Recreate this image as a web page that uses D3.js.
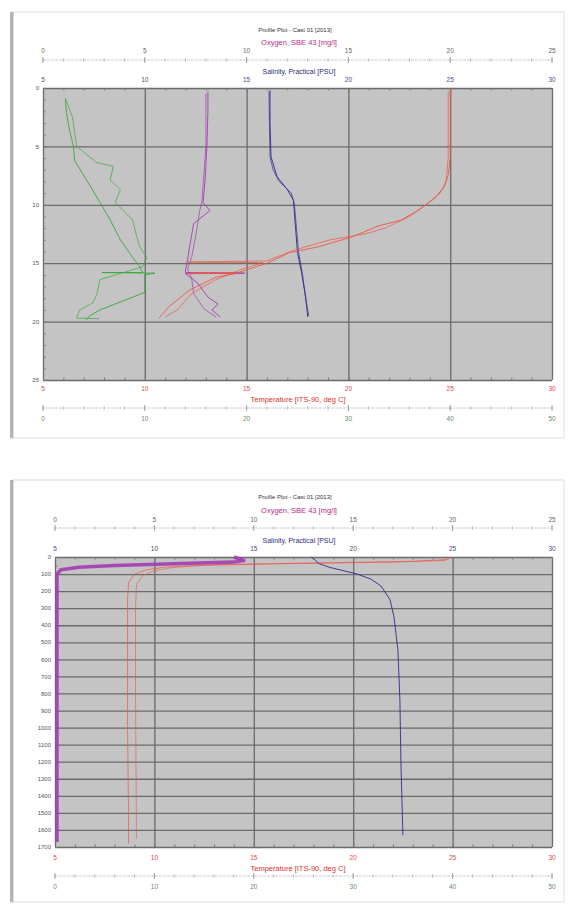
<!DOCTYPE html>
<html>
<head>
<meta charset="utf-8">
<script src="https://cdn.jsdelivr.net/npm/d3@7"></script>
<style>
  body { margin: 0; background: #fff; }
  svg { font-family: "Liberation Sans", Arial, sans-serif; }
</style>
</head>
<body>
<svg id="chart" width="568" height="905"></svg>
<script>
// ---- data: [depth, value] ----

// shallow cast (0-25 m)
const tempDownTop = [[0,25],[2,25],[4,25],[6,25],[7.5,24.9],[8.5,24.7],[9.5,24.2],[10.5,23.4],[11.3,22.6],[11.8,21.5],[12.8,20.1],[13.6,18.5],[14.1,17.1],[15,16],[15.8,14.6],[15.85,12.1],[15.9,14.4],[16.2,13.5],[17.3,12.2],[18.7,11.2],[19.7,10.7]];
const tempUpTop = [[0.3,24.9],[3,24.9],[6,24.9],[8,24.8],[9,24.5],[10,23.8],[11,23],[12,21.8],[12.5,20.8],[13,19.1],[13.9,17.3],[14.8,16],[14.9,12.1],[14.95,15.8],[15.5,14.8],[16.4,13.5],[17.6,12.3],[19,11.6],[19.6,11]];
const oxyDownTop = [[0.3,8.1],[2,8.1],[5,8.05],[7.9,7.96],[9.8,7.86],[10.5,8.2],[11.6,7.4],[13.6,7.2],[14.7,7.1],[15.6,7.0],[15.8,7.0],[15.85,9.9],[15.9,7.0],[16.7,7.6],[17.9,8.1],[18.5,8.6],[19,8.3],[19.6,8.7]];
const oxyUpTop = [[0.5,8.0],[5,8.0],[9.8,7.8],[10.5,7.7],[12.7,7.5],[14.5,7.3],[15.5,7.1],[16.3,7.3],[17.6,7.4],[18.9,7.9],[19.6,8.5]];
const salDownTop = [[0.2,16.15],[3,16.15],[5.9,16.2],[7.6,16.5],[8.7,17],[9.6,17.3],[11.9,17.4],[14.1,17.5],[15.8,17.7],[17.9,17.9],[19.6,18]];
const salUpTop = [[0.3,16.1],[5.9,16.15],[7,16.3],[8,16.6],[9,17.2],[10,17.35],[12,17.45],[14,17.55],[16,17.75],[18,17.9],[19.5,18.05]];
const grnDownTop = [[0.9,2.2],[2.1,2.3],[3.6,2.6],[5,3],[6.2,3.1],[7.9,4.3],[9.8,5.6],[11.3,6.6],[13,7.6],[14.5,8.8],[15.3,9.5],[15.8,9.8],[15.8,5.8],[15.85,11],[16,10],[17.3,10],[17.5,10],[19,5.6],[19.5,4.6],[19.9,4.2]];
const grnUpTop = [[0.9,2.2],[2.5,2.9],[5,3.3],[6.4,5.3],[6.7,6.9],[7.9,6.6],[8.7,7.6],[9.8,7.1],[11.3,8.8],[12.7,9.2],[13.6,9.5],[14.5,10.2],[15.3,9.8],[16.4,5.6],[17.6,5.3],[18.4,4.9],[19,3.6],[19.7,3.3],[19.75,5.5]];

// deep cast (0-1700 m)
const tempDownBot = [[0,24.9],[10,24.8],[20,24.6],[30,22],[40,16],[50,12],[60,10.5],[75,9.6],[100,9.0],[150,8.7],[250,8.65],[500,8.65],[1000,8.65],[1500,8.7],[1680,8.7]];
const tempUpBot = [[2,24.8],[15,24.7],[25,23],[35,18],[45,13],[60,11],[80,10],[110,9.4],[160,9.1],[300,9.05],[800,9.05],[1650,9.1]];
const salBot = [[0,17.9],[20,18.1],[40,18.3],[60,18.8],[80,19.5],[100,20.2],[130,20.9],[170,21.4],[250,21.85],[350,22.05],[545,22.25],[840,22.35],[1200,22.4],[1630,22.5]];
const oxyBot = [[0,9],[20,9.5],[30,9],[40,6],[50,3],[60,1.2],[75,0.3],[100,0.1],[300,0.1],[1000,0.1],[1670,0.1]];

// axis ticks
const oxyTicks = [0, 5, 10, 15, 20, 25];
const salTicks = [5, 10, 15, 20, 25, 30];
const tempTicks = [5, 10, 15, 20, 25, 30];
const grnTicks = [0, 10, 20, 30, 40, 50];
const depthTicksTop = [0, 5, 10, 15, 20, 25];
const depthTicksBot = d3.range(0, 1800, 100);

const plotTitle = "Profile Plot - Cast 01 [2013]";
const oxyTitle = "Oxygen, SBE 43 [mg/l]";
const salTitle = "Salinity, Practical [PSU]";
const tempTitle = "Temperature [ITS-90, deg C]";

const C = { temp: "#ee5544", oxy: "#a43cb4", sal: "#2c2c90", grn: "#3aa83a" };

const svg = d3.select("#chart");

function drawPanel(p) {
  const g = svg.append("g");

  // card
  g.append("rect").attr("x", p.card[0]).attr("y", p.card[1])
    .attr("width", p.card[2]).attr("height", p.card[3])
    .attr("fill", "#fff").attr("stroke", "#dedede");
  g.append("rect").attr("x", p.card[0] - 2).attr("y", p.card[1])
    .attr("width", 3.5).attr("height", p.card[3]).attr("fill", "#b4b4b4");

  const y = d3.scaleLinear().domain([0, p.depthMax]).range([p.top, p.bottom]);
  const xOxy = d3.scaleLinear().domain([0, 25]).range([p.left, p.right]);
  const xSal = d3.scaleLinear().domain([5, 30]).range([p.left, p.right]);
  const xTemp = d3.scaleLinear().domain([5, 30]).range([p.left, p.right]);
  const xGrn = d3.scaleLinear().domain([0, 50]).range([p.left, p.right]);

  // plot area and grid
  g.append("rect").attr("x", p.left).attr("y", p.top)
    .attr("width", p.right - p.left).attr("height", p.bottom - p.top)
    .attr("fill", "#c4c4c4");

  g.append("g").attr("transform", `translate(0,${p.top})`)
    .call(d3.axisTop(xSal).tickValues(salTicks).tickSize(-(p.bottom - p.top)).tickFormat(""))
    .call(a => a.select(".domain").remove())
    .selectAll("line").attr("stroke", "#6a6a6a").attr("stroke-width", 1.3);

  g.append("g").attr("transform", `translate(${p.left},0)`)
    .call(d3.axisLeft(y).tickValues(p.depthTicks).tickSize(-(p.right - p.left)).tickFormat(""))
    .call(a => a.select(".domain").remove())
    .selectAll("line").attr("stroke", "#6a6a6a").attr("stroke-width", 1.3);

  // inner minor ticks
  const minorX = d3.range(5, 30.01, 1);
  g.append("g").attr("transform", `translate(0,${p.top})`)
    .call(d3.axisBottom(xSal).tickValues(minorX).tickSize(2.5).tickFormat(""))
    .call(a => a.select(".domain").remove())
    .selectAll("line").attr("stroke", "#777");
  g.append("g").attr("transform", `translate(0,${p.bottom})`)
    .call(d3.axisTop(xTemp).tickValues(minorX).tickSize(2.5).tickFormat(""))
    .call(a => a.select(".domain").remove())
    .selectAll("line").attr("stroke", "#777");
  g.append("g").attr("transform", `translate(${p.left},0)`)
    .call(d3.axisRight(y).tickValues(p.depthMinor).tickSize(2.5).tickFormat(""))
    .call(a => a.select(".domain").remove())
    .selectAll("line").attr("stroke", "#777");

  // depth labels
  g.append("g").selectAll("text").data(p.depthTicks).join("text")
    .attr("x", p.left - 4).attr("y", d => y(d) + 2.2)
    .attr("text-anchor", "end").attr("font-size", 6).attr("fill", "#555")
    .text(d => d);

  // plain axis lines (oxygen on top, green at the bottom)
  function floatAxis(scale, ticks, minor, yLine, yLab, labColor) {
    g.append("line").attr("x1", p.left).attr("x2", p.right)
      .attr("y1", yLine).attr("y2", yLine)
      .attr("stroke", "#cacaca").attr("stroke-dasharray", "3,1");
    g.append("g").selectAll("line").data(minor).join("line")
      .attr("x1", d => scale(d)).attr("x2", d => scale(d))
      .attr("y1", yLine - 1.5).attr("y2", yLine + 1.5).attr("stroke", "#b8b8b8");
    g.append("g").selectAll("line").data(ticks).join("line")
      .attr("x1", d => scale(d)).attr("x2", d => scale(d))
      .attr("y1", yLine - 3).attr("y2", yLine + 3).attr("stroke", "#a0a0a0");
    g.append("g").selectAll("text").data(ticks).join("text")
      .attr("x", d => scale(d)).attr("y", yLab + 2.3)
      .attr("text-anchor", "middle").attr("font-size", 6.5).attr("fill", labColor)
      .text(d => d);
  }
  floatAxis(xOxy, oxyTicks, d3.range(0, 25.01, 1), p.oxyLineY, p.oxyLabelY, "#666");
  floatAxis(xGrn, grnTicks, d3.range(0, 50.01, 2), p.grnLineY, p.grnLabelY, "#6a8a6a");

  // salinity & temperature labels on the plot frame
  g.append("g").selectAll("text").data(salTicks).join("text")
    .attr("x", d => xSal(d)).attr("y", p.salLabelY + 2.3)
    .attr("text-anchor", "middle").attr("font-size", 6.5).attr("fill", "#4a4a80")
    .text(d => d);
  g.append("g").selectAll("text").data(tempTicks).join("text")
    .attr("x", d => xTemp(d)).attr("y", p.tempLabelY + 2.3)
    .attr("text-anchor", "middle").attr("font-size", 6.5).attr("fill", "#e04848")
    .text(d => d);

  // titles
  const tx = 299;
  g.append("text").attr("x", tx - 4).attr("y", p.titleY + 2).attr("text-anchor", "middle")
    .attr("font-size", 6).attr("fill", "#333").text(plotTitle);
  g.append("text").attr("x", tx).attr("y", p.oxyTitleY + 2.5).attr("text-anchor", "middle")
    .attr("font-size", 7.5).attr("fill", "#b82a8c").text(oxyTitle);
  g.append("text").attr("x", tx).attr("y", p.salTitleY + 2.5).attr("text-anchor", "middle")
    .attr("font-size", 7).attr("fill", "#2e2e80").text(salTitle);
  g.append("text").attr("x", tx - 1).attr("y", p.tempTitleY + 2.5).attr("text-anchor", "middle")
    .attr("font-size", 7.5).attr("fill", "#e03030").text(tempTitle);

  // traces
  const plotLine = (data, xs, color, w) => g.append("path").datum(data)
    .attr("fill", "none").attr("stroke", color).attr("stroke-width", w)
    .attr("stroke-linejoin", "round")
    .attr("d", d3.line().x(d => xs(d[1])).y(d => y(d[0])));

  p.traces.forEach(t => {
    const xs = { temp: xTemp, oxy: xOxy, sal: xSal, grn: xGrn }[t.v];
    plotLine(t.data, xs, C[t.v], t.w || 1).attr("opacity", t.o || 0.9);
  });
}

drawPanel({
  card: [12, 12, 552, 426],
  left: 43, right: 552, top: 88, bottom: 380,
  depthMax: 25, depthTicks: depthTicksTop, depthMinor: d3.range(0, 25.01, 1),
  titleY: 30, oxyTitleY: 42, oxyLabelY: 51, oxyLineY: 60, salTitleY: 71, salLabelY: 80,
  tempLabelY: 389, tempTitleY: 399, grnLineY: 408, grnLabelY: 419,
  traces: [
    { v: "grn", data: grnDownTop }, { v: "grn", data: grnUpTop, o: 0.7 },
    { v: "oxy", data: oxyDownTop }, { v: "oxy", data: oxyUpTop, o: 0.7 },
    { v: "sal", data: salDownTop }, { v: "sal", data: salUpTop, o: 0.7 },
    { v: "temp", data: tempDownTop }, { v: "temp", data: tempUpTop, o: 0.7 }
  ]
});

drawPanel({
  card: [12, 480, 552, 422],
  left: 55, right: 552, top: 557, bottom: 847,
  depthMax: 1700, depthTicks: depthTicksBot, depthMinor: d3.range(0, 1700.1, 50),
  titleY: 497, oxyTitleY: 510, oxyLabelY: 520, oxyLineY: 528, salTitleY: 540, salLabelY: 549,
  tempLabelY: 858, tempTitleY: 868, grnLineY: 876, grnLabelY: 887,
  traces: [
    { v: "temp", data: tempDownBot, o: 0.7 }, { v: "temp", data: tempUpBot, o: 0.6 },
    { v: "sal", data: salBot },
    { v: "oxy", data: oxyBot, w: 3.5 }
  ]
});
</script>
</body>
</html>
